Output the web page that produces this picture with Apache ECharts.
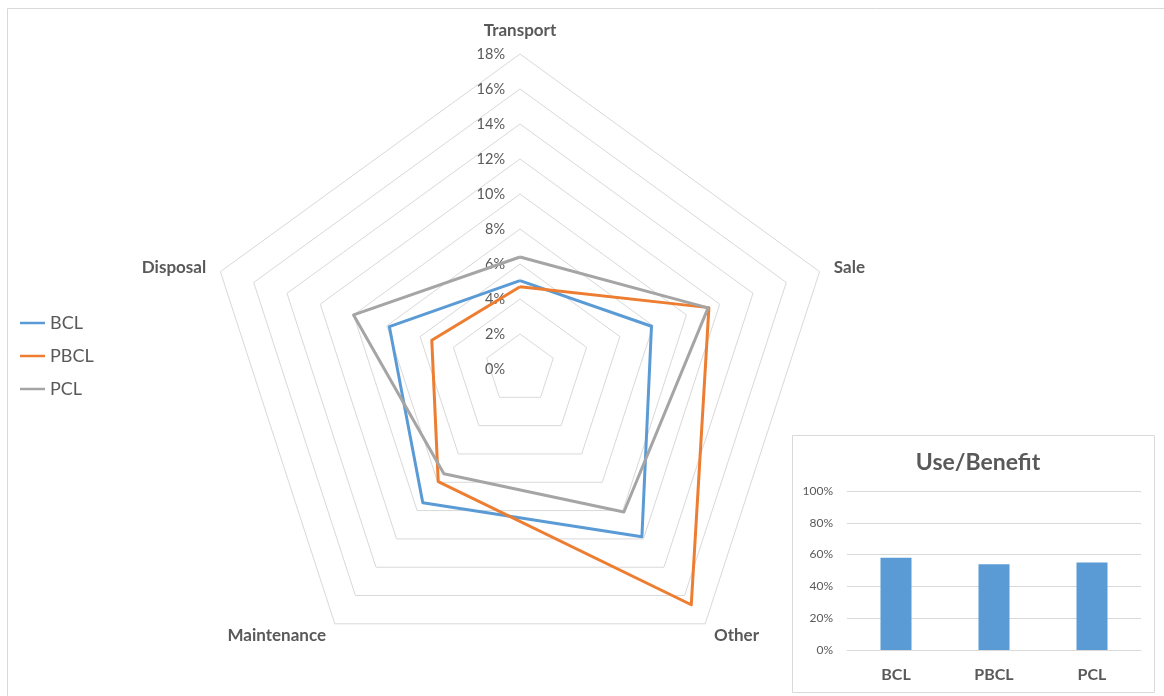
<!DOCTYPE html>
<html>
<head>
<meta charset="utf-8">
<title>Radar - Use/Benefit</title>
<script src="https://cdn.jsdelivr.net/npm/echarts@6/dist/echarts.min.js"></script>
<style>
  html, body { margin: 0; padding: 0; background: #fff; }
  #chart { width: 1164px; height: 696px; }
</style>
</head>
<body>
<div id="chart"></div>
<script>
// radar data (percent), listed in the order ECharts draws the axes (counter-clockwise from top)
var indicators = ['Transport', 'Disposal', 'Maintenance', 'Other', 'Sale'];
var seriesNames = ['BCL', 'PBCL', 'PCL'];
var bclValues = [5.05, 7.85, 9.45, 11.85, 7.9];
var pbclValues = [4.7, 5.3, 7.95, 16.65, 11.35];
var pclValues = [6.4, 10.0, 7.4, 10.1, 11.3];
var radarMax = 18;
var radarStep = 2;

// inset bar data (fraction)
var benefitCats = ['BCL', 'PBCL', 'PCL'];
var benefitValues = [0.58, 0.54, 0.55];

var colors = ['#5B9BD5', '#ED7D31', '#A5A5A5'];
var textColor = '#595959';
var gridColor = '#d9d9d9';
var font = 'Lato, "Open Sans", sans-serif';

var chart = echarts.init(document.getElementById('chart'));

var option = {
  backgroundColor: '#fff',
  textStyle: { fontFamily: font },
  color: colors,
  title: {
    text: 'Use/Benefit',
    left: 973,
    top: 446,
    textAlign: 'center',
    textStyle: { fontSize: 23, fontWeight: 'bold', color: textColor, fontFamily: font }
  },
  legend: {
    orient: 'vertical',
    left: 15,
    top: 309,
    itemGap: 15,
    itemWidth: 25,
    itemHeight: 2.5,
    icon: 'rect',
    data: seriesNames,
    textStyle: { fontSize: 18, color: textColor }
  },
  graphic: [
    {
      type: 'rect', z: -10, silent: true,
      shape: { x: 7.5, y: 8.5, width: 1200, height: 800 },
      style: { fill: 'transparent', stroke: '#d9d9d9', lineWidth: 1 }
    },
    {
      type: 'rect', z: -10, silent: true,
      shape: { x: 792.5, y: 435.5, width: 362, height: 257 },
      style: { fill: 'transparent', stroke: '#d9d9d9', lineWidth: 1 }
    }
  ],
  radar: {
    center: [520, 369],
    radius: 315,
    startAngle: 90,
    splitNumber: radarMax / radarStep,
    shape: 'polygon',
    nameGap: 15,
    axisName: { color: textColor, fontSize: 17, fontWeight: 'bold', fontFamily: font },
    axisLine: { show: false },
    axisTick: { show: false },
    axisLabel: { show: false },
    splitArea: { show: false },
    splitLine: { lineStyle: { color: gridColor, width: 1 } },
    indicator: indicators.map(function (n) { return { name: n, min: 0, max: radarMax }; })
  },
  grid: [
    // scale labels along the Transport axis
    { left: 520, top: 54, width: 1, height: 315 },
    // inset bar chart
    { left: 847, right: 23, top: 491, bottom: 46 }
  ],
  xAxis: [
    { gridIndex: 0, type: 'value', show: false },
    {
      gridIndex: 1,
      type: 'category',
      data: benefitCats,
      axisLine: { lineStyle: { color: gridColor } },
      axisTick: { show: false },
      axisLabel: { margin: 17, fontSize: 16, fontWeight: 'bold', color: textColor }
    }
  ],
  yAxis: [
    {
      gridIndex: 0,
      type: 'value',
      min: 0,
      max: radarMax,
      interval: radarStep,
      axisLine: { show: false },
      axisTick: { show: false },
      splitLine: { show: false },
      axisLabel: { margin: 15, fontSize: 14.5, color: textColor, formatter: '{value}%' }
    },
    {
      gridIndex: 1,
      type: 'value',
      min: 0,
      max: 1,
      interval: 0.2,
      axisLine: { show: false },
      axisTick: { show: false },
      splitLine: { lineStyle: { color: gridColor } },
      axisLabel: {
        margin: 14, fontSize: 12, color: textColor,
        formatter: function (v) { return Math.round(v * 100) + '%'; }
      }
    }
  ],
  series: [
    {
      type: 'radar',
      symbol: 'none',
      lineStyle: { width: 3 },
      data: [
        { name: 'BCL', value: bclValues, lineStyle: { color: colors[0], width: 3 }, itemStyle: { color: colors[0] } },
        { name: 'PBCL', value: pbclValues, lineStyle: { color: colors[1], width: 3 }, itemStyle: { color: colors[1] } },
        { name: 'PCL', value: pclValues, lineStyle: { color: colors[2], width: 3 }, itemStyle: { color: colors[2] } }
      ]
    },
    {
      type: 'bar',
      name: 'Use/Benefit',
      xAxisIndex: 1,
      yAxisIndex: 1,
      data: benefitValues,
      barWidth: 31,
      itemStyle: { color: '#5B9BD5' }
    }
  ]
};

chart.setOption(option);
</script>
</body>
</html>
